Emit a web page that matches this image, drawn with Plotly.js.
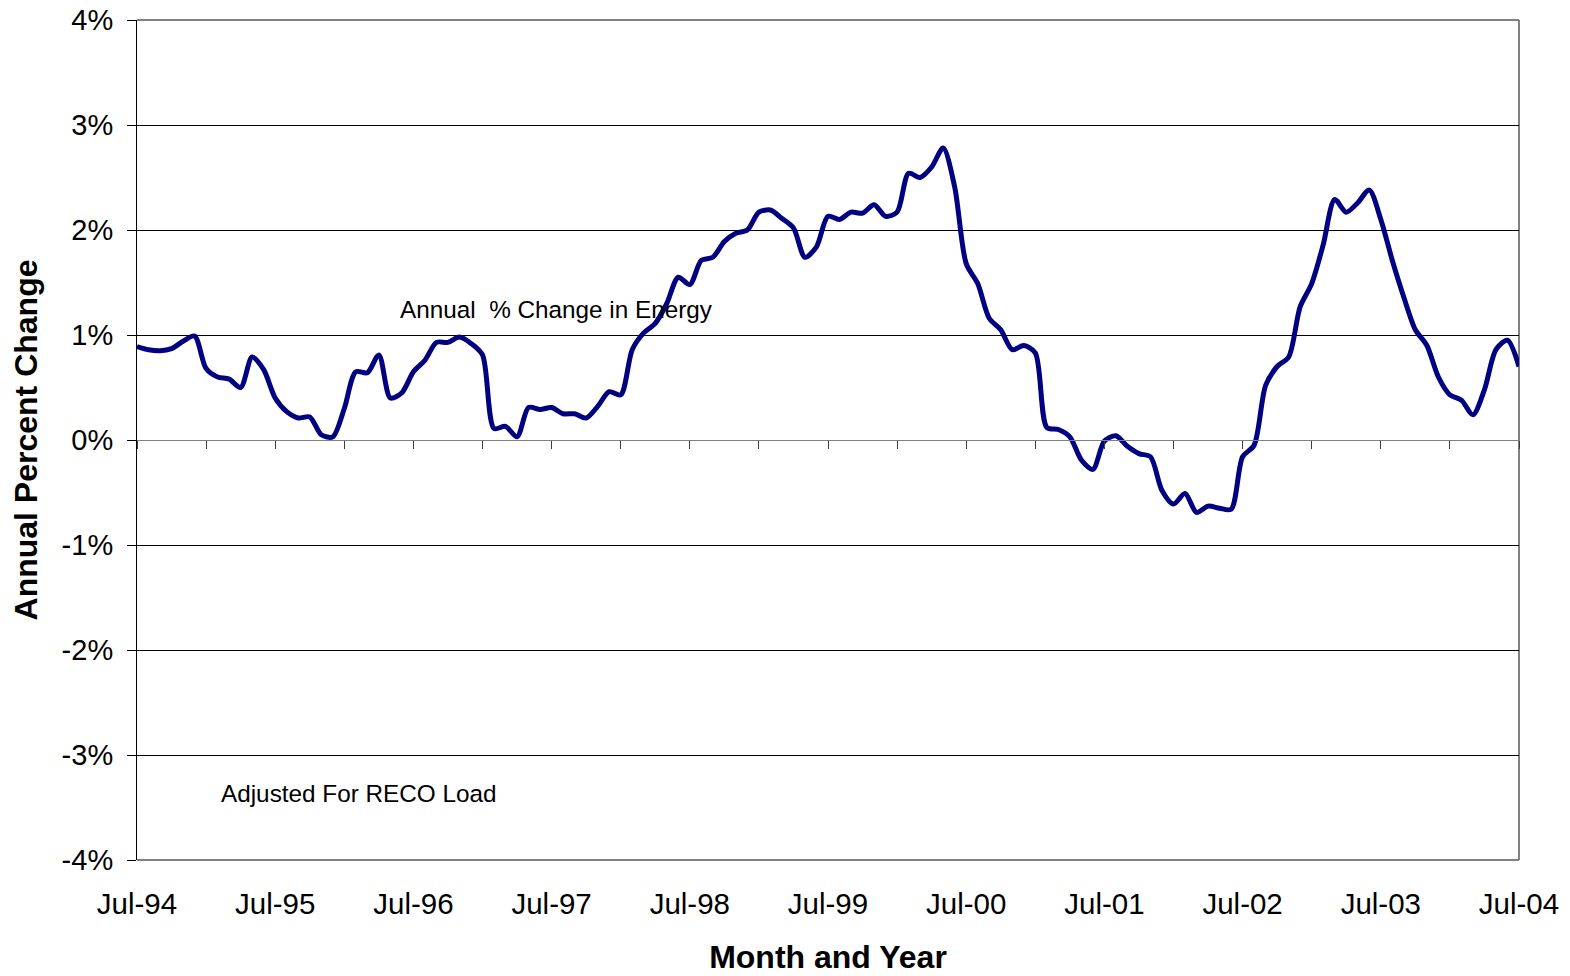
<!DOCTYPE html>
<html>
<head>
<meta charset="utf-8">
<script src="https://cdn.plot.ly/plotly-3.0.1.min.js"></script>
<style>
  html, body { margin: 0; padding: 0; background: #ffffff; }
  #chart { width: 1570px; height: 976px; }
</style>
</head>
<body>
<div id="chart"></div>
<script>
// Annual % change in energy, monthly, Jul-94 .. Jul-04 (percent)
const pctChange = [
  0.89, 0.86, 0.85, 0.87, 0.94, 0.99, 0.68, 0.60, 0.58, 0.50,
  0.79, 0.67, 0.40, 0.27, 0.21, 0.22, 0.05, 0.03, 0.30, 0.65,
  0.64, 0.81, 0.40, 0.45, 0.65, 0.76, 0.93, 0.93, 0.98, 0.92,
  0.81, 0.11, 0.13, 0.03, 0.31, 0.29, 0.31, 0.25, 0.25, 0.21,
  0.32, 0.46, 0.43, 0.86, 1.02, 1.11, 1.30, 1.55, 1.48, 1.71,
  1.74, 1.89, 1.97, 2.00, 2.17, 2.19, 2.11, 2.02, 1.74, 1.84,
  2.13, 2.10, 2.17, 2.16, 2.24, 2.13, 2.17, 2.54, 2.50, 2.60,
  2.78, 2.41, 1.68, 1.49, 1.16, 1.05, 0.86, 0.90, 0.83, 0.12,
  0.10, 0.03, -0.19, -0.28, -0.01, 0.04, -0.06, -0.13, -0.16, -0.48,
  -0.61, -0.51, -0.69, -0.63, -0.65, -0.66, -0.16, -0.05, 0.52, 0.70,
  0.79, 1.27, 1.49, 1.86, 2.29, 2.17, 2.26, 2.38, 2.10, 1.71,
  1.36, 1.05, 0.90, 0.60, 0.43, 0.38, 0.24, 0.48, 0.86, 0.95,
  0.70
];

// Month index along the category axis (0 = Jul-94)
const monthIndex = pctChange.map((_, i) => i);

// X tick labels (every 12 months) and their category positions
const xTickLabels = ['Jul-94','Jul-95','Jul-96','Jul-97','Jul-98','Jul-99','Jul-00','Jul-01','Jul-02','Jul-03','Jul-04'];
const xTickPos = xTickLabels.map((_, k) => k * 12);

// Half-year tick marks on the 0% axis
const halfYearTicks = [];
for (let m = 0; m <= 120; m += 6) halfYearTicks.push(m);

// Y tick values and labels
const yTickVals = [-4, -3, -2, -1, 0, 1, 2, 3, 4];
const yTickLabels = ['-4%', '-3%', '-2%', '-1%', '0%', '1%', '2%', '3%', '4%'];

const FONT = 'Liberation Sans, Arial, sans-serif';

const traces = [
  {
    x: monthIndex,
    y: pctChange,
    type: 'scatter',
    mode: 'lines',
    line: { color: '#000080', width: 5, shape: 'spline', smoothing: 0.8 },
    hoverinfo: 'x+y',
    showlegend: false
  },
  {
    x: monthIndex,
    y: pctChange,
    xaxis: 'x2',
    yaxis: 'y',
    type: 'scatter',
    mode: 'lines',
    line: { color: 'rgba(0,0,0,0)', width: 0 },
    opacity: 0,
    hoverinfo: 'skip',
    showlegend: false
  }
];

const layout = {
  width: 1570,
  height: 976,
  margin: { l: 137, r: 51, t: 20, b: 116 },
  paper_bgcolor: '#ffffff',
  plot_bgcolor: '#ffffff',
  font: { family: FONT, color: '#000000', size: 29 },
  showlegend: false,
  xaxis: {
    range: [0, 120],
    tickvals: xTickPos,
    ticktext: xTickLabels,
    ticks: '',
    showline: false,
    showgrid: false,
    zeroline: false,
    tickfont: { family: FONT, size: 29.5, color: '#000000' },
    ticklabelstandoff: 23,
    title: {
      text: '<b>Month and Year</b>',
      font: { family: FONT, size: 32, color: '#000000' },
      standoff: 27
    }
  },
  xaxis2: {
    overlaying: 'x',
    anchor: 'free',
    position: 0.5,
    range: [0, 120],
    tickvals: halfYearTicks,
    ticks: 'outside',
    ticklen: 8,
    tickwidth: 1,
    tickcolor: '#404040',
    showticklabels: false,
    showline: true,
    linecolor: '#808080',
    linewidth: 1,
    showgrid: false,
    zeroline: false
  },
  yaxis: {
    range: [-4, 4],
    tickvals: yTickVals,
    ticktext: yTickLabels,
    ticks: 'outside',
    ticklen: 9,
    tickwidth: 1,
    tickcolor: '#000000',
    showline: true,
    linecolor: '#000000',
    linewidth: 1,
    showgrid: true,
    gridcolor: '#000000',
    gridwidth: 1,
    zeroline: false,
    tickfont: { family: FONT, size: 29, color: '#000000' },
    ticklabelstandoff: 8,
    title: {
      text: '<b>Annual Percent Change</b>',
      font: { family: FONT, size: 32, color: '#000000' },
      standoff: 14
    }
  },
  shapes: [
    { type: 'line', xref: 'paper', yref: 'paper', x0: 0, x1: 1, y0: 1, y1: 1,
      line: { color: '#808080', width: 2 }, layer: 'between' },
    { type: 'line', xref: 'paper', yref: 'paper', x0: 1, x1: 1, y0: 0, y1: 1,
      line: { color: '#808080', width: 2 }, layer: 'between' },
    { type: 'line', xref: 'paper', yref: 'paper', x0: 0, x1: 1, y0: 0, y1: 0,
      line: { color: '#808080', width: 2 }, layer: 'between' }
  ],
  annotations: [
    {
      text: 'Annual\u00a0 % Change in Energy',
      xref: 'paper', yref: 'paper',
      x: (398 - 137) / 1382, y: (860 - 309) / 840,
      xanchor: 'left', yanchor: 'middle',
      showarrow: false,
      font: { family: FONT, size: 24.3, color: '#000000' }
    },
    {
      text: 'Adjusted For RECO Load',
      xref: 'paper', yref: 'paper',
      x: (219 - 137) / 1382, y: (860 - 793) / 840,
      xanchor: 'left', yanchor: 'middle',
      showarrow: false,
      font: { family: FONT, size: 24.3, color: '#000000' }
    }
  ]
};

Plotly.newPlot('chart', traces, layout, { displayModeBar: false, responsive: false });
</script>
</body>
</html>
